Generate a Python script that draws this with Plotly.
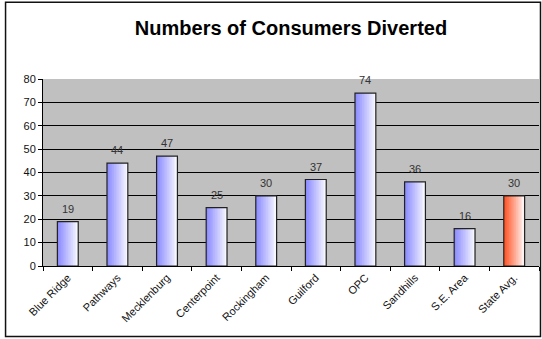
import plotly.graph_objects as go

categories = ["Blue Ridge", "Pathways", "Mecklenburg", "Centerpoint", "Rockingham",
              "Guilford", "OPC", "Sandhills", "S.E. Area", "State Avg."]
values = [19, 44, 47, 25, 30, 37, 74, 36, 16, 30]
highlight = [False] * 9 + [True]
title_text = "Numbers of Consumers Diverted"
y_ticks = [0, 10, 20, 30, 40, 50, 60, 70, 80]

BLUE_L, BLUE_R = (140, 140, 255), (246, 246, 255)
RED_L, RED_R = (255, 85, 40), (255, 242, 240)
BAR_W = 0.42
N = 12


def mix(a, b, t):
    return "rgb(%d,%d,%d)" % tuple(round(a[k] * (1 - t) + b[k] * t) for k in range(3))


fig = go.Figure()
step = BAR_W / N
for i in range(N):
    t = i / (N - 1)
    cols = [mix(RED_L, RED_R, t) if h else mix(BLUE_L, BLUE_R, t) for h in highlight]
    w = step * 1.6 if i < N - 1 else step
    w = min(w, BAR_W - i * step)
    fig.add_trace(go.Bar(
        x=categories, y=values, width=w, offset=-BAR_W / 2 + i * step,
        marker=dict(color=cols, line=dict(width=0)),
        hoverinfo="skip", showlegend=False,
    ))

fig.add_trace(go.Bar(
    x=categories, y=values, width=BAR_W, offset=-BAR_W / 2,
    marker=dict(color="rgba(0,0,0,0)", line=dict(color="#222", width=1.2)),
    showlegend=False,
))

for c, v in zip(categories, values):
    fig.add_annotation(x=c, y=v, text=str(v), showarrow=False, yshift=13,
                       font=dict(size=11, color="#333"))

fig.add_shape(type="rect", xref="paper", yref="paper",
              x0=-0.0755, x1=1.003, y0=-0.377, y1=1.41,
              line=dict(color="#111", width=1.5), fillcolor="rgba(0,0,0,0)", layer="below")

fig.update_layout(
    width=542, height=339,
    margin=dict(l=43, r=3, t=79, b=73),
    barmode="overlay",
    paper_bgcolor="white", plot_bgcolor="#C0C0C0",
    font=dict(family="Arial, Liberation Sans, sans-serif", color="#000"),
    title=dict(text="<b>" + title_text + "</b>", x=0.5, xref="paper", y=0.917, yanchor="middle",
               font=dict(size=20, color="#000")),
    xaxis=dict(type="category", tickson="boundaries", ticks="outside", ticklen=4,
               tickcolor="#000", showline=True, linecolor="#000", tickangle=-45,
               tickfont=dict(size=11, color="#111"), showgrid=False, mirror=False,
               range=[-0.5, len(categories) - 0.5]),
    yaxis=dict(range=[0, 80], tickvals=y_ticks, ticks="outside", ticklen=4, tickcolor="#000",
               showline=True, linecolor="#000", gridcolor="#000", gridwidth=1,
               tickfont=dict(size=11, color="#111"), zeroline=False),
)
fig.write_html("out.html")
